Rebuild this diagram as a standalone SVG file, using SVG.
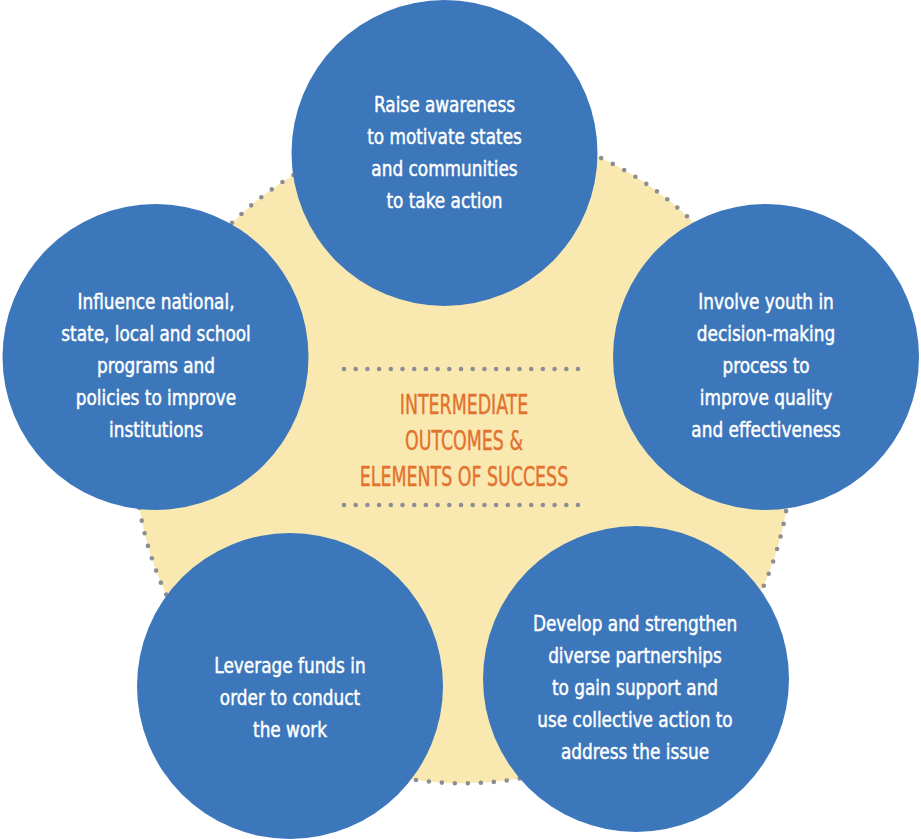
<svg xmlns="http://www.w3.org/2000/svg" width="921" height="839" viewBox="0 0 921 839">
  <style>
    .circle { fill: #3d77bb; }
    .ctext { fill: #ffffff; stroke: #ffffff; stroke-width: 0.45px; font-family: "DejaVu Sans Condensed", "DejaVu Sans", sans-serif; font-stretch: condensed; font-size: 21px; text-anchor: middle; }
    .title { fill: #e2722e; stroke: #e2722e; stroke-width: 0.4px; font-family: "DejaVu Sans Condensed", "DejaVu Sans", sans-serif; font-stretch: condensed; font-size: 26px; text-anchor: middle; }
    .dots { fill: none; stroke: #8d8e93; stroke-width: 4.6; stroke-linecap: round; }
  </style>
  <rect width="921" height="839" fill="#ffffff"/>
  <g id="background">
    <path d="M463 125.5 A340 340 0 0 1 776.8 353.5 A340 340 0 0 1 657 722.5 A340 340 0 0 1 269 722.5 A340 340 0 0 1 149.2 353.5 A340 340 0 0 1 463 125.5 Z" fill="#f9e9b0"/>
    <path class="dots" stroke-dasharray="0 13" d="M463 125.5 A340 340 0 0 1 776.8 353.5 A340 340 0 0 1 657 722.5 A340 340 0 0 1 269 722.5 A340 340 0 0 1 149.2 353.5 A340 340 0 0 1 463 125.5 Z"/>
  </g>
  <g id="center-label">
    <path class="dots" stroke-dasharray="0 11.7" d="M344 369 H580 M586 369 h0"/>
    <path class="dots" stroke-dasharray="0 11.7" d="M344 505 H580 M586 505 h0"/>
    <g transform="translate(464 0) scale(0.745 1)">
      <text class="title" x="0" y="414">INTERMEDIATE</text>
      <text class="title" x="0" y="450">OUTCOMES &amp;</text>
      <text class="title" x="0" y="486">ELEMENTS OF SUCCESS</text>
    </g>
  </g>
  <g id="node-top">
    <circle class="circle" cx="444.5" cy="153" r="153"/>
    <g transform="translate(444.5 0) scale(0.895 1)">
      <text class="ctext" x="0" y="112">Raise awareness</text>
      <text class="ctext" x="0" y="144">to motivate states</text>
      <text class="ctext" x="0" y="176">and communities</text>
      <text class="ctext" x="0" y="208">to take action</text>
    </g>
  </g>
  <g id="node-left">
    <circle class="circle" cx="155.5" cy="357" r="153"/>
    <g transform="translate(156 0) scale(0.895 1)">
      <text class="ctext" x="0" y="309">Influence national,</text>
      <text class="ctext" x="0" y="341">state, local and school</text>
      <text class="ctext" x="0" y="373">programs and</text>
      <text class="ctext" x="0" y="405">policies to improve</text>
      <text class="ctext" x="0" y="437">institutions</text>
    </g>
  </g>
  <g id="node-right">
    <circle class="circle" cx="766" cy="357" r="153"/>
    <g transform="translate(766 0) scale(0.895 1)">
      <text class="ctext" x="0" y="309">Involve youth in</text>
      <text class="ctext" x="0" y="341">decision-making</text>
      <text class="ctext" x="0" y="373">process to</text>
      <text class="ctext" x="0" y="405">improve quality</text>
      <text class="ctext" x="0" y="437">and effectiveness</text>
    </g>
  </g>
  <g id="node-bottom-left">
    <circle class="circle" cx="290" cy="686" r="153"/>
    <g transform="translate(290 0) scale(0.895 1)">
      <text class="ctext" x="0" y="673">Leverage funds in</text>
      <text class="ctext" x="0" y="705">order to conduct</text>
      <text class="ctext" x="0" y="737">the work</text>
    </g>
  </g>
  <g id="node-bottom-right">
    <circle class="circle" cx="636" cy="679" r="153"/>
    <g transform="translate(635 0) scale(0.895 1)">
      <text class="ctext" x="0" y="631">Develop and strengthen</text>
      <text class="ctext" x="0" y="663">diverse partnerships</text>
      <text class="ctext" x="0" y="695">to gain support and</text>
      <text class="ctext" x="0" y="727">use collective action to</text>
      <text class="ctext" x="0" y="759">address the issue</text>
    </g>
  </g>
</svg>
